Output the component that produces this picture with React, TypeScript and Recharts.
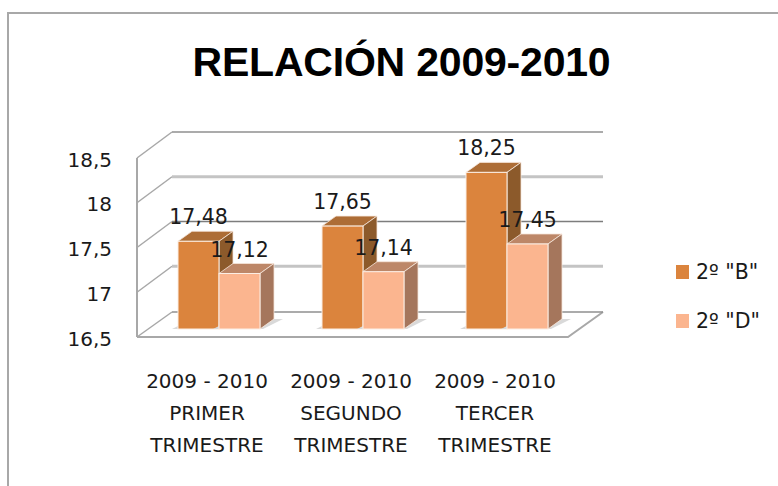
import React from "react";
import { BarChart, Bar, XAxis, YAxis, CartesianGrid, Legend, LabelList } from "recharts";

const categories = ["2009 - 2010\nPRIMER\nTRIMESTRE", "2009 - 2010\nSEGUNDO\nTRIMESTRE", "2009 - 2010\nTERCER\nTRIMESTRE"];
const serieB = [17.48, 17.65, 18.25];
const serieD = [17.12, 17.14, 17.45];
const yTicks = [16.5, 17, 17.5, 18, 18.5];
const nameB = '2º "B"';
const nameD = '2º "D"';
const title = "RELACIÓN 2009-2010";

const rows = categories.map((c, i) => ({ category: c, b: serieB[i], d: serieD[i] }));

const W = 778, H = 486;
const PLOT_TOP = 150, PLOT_BOTTOM = 329, PLOT_LEFT = 147, PLOT_RIGHT = 579;
const Y_W = 60, X_H = 110;
const FONT = "'DejaVu Sans', sans-serif";
const comma = (v: number) => String(v).replace(".", ",");

const gridStyles = [
  { stroke: "#8f8f8f", strokeWidth: 1.6 },
  { stroke: "#c4c4c4", strokeWidth: 3 },
  { stroke: "#7d7d7d", strokeWidth: 1.3 },
  { stroke: "#c4c4c4", strokeWidth: 3 },
  { stroke: "#8f8f8f", strokeWidth: 1.6 },
];

function gridLine(p: any) {
  const { x1, x2, y } = { x1: p.x1, x2: p.x2, y: p.y1 };
  const frac = (y - PLOT_TOP) / (PLOT_BOTTOM - PLOT_TOP);
  const style = gridStyles[Math.max(0, Math.min(4, Math.round(frac * 4)))];
  const isFloor = frac > 0.9;
  const fx = x1 - 10, bx = x1 + 25, bxr = x2 + 24, fxr = x2 - 11;
  const fy = y + 8, by = y - 18;
  return (
    <g key={p.key}>
      {isFloor && (
        <polyline points={`${fx},${fy} ${fxr},${fy} ${bxr},${by + 1}`} fill="none" stroke="#a8a8a8" strokeWidth={2} />
      )}
      <line x1={fx} y1={fy} x2={fx} y2={PLOT_BOTTOM + 8} stroke="#a8a8a8" strokeWidth={2} />
      <line x1={fx} y1={fy} x2={bx} y2={isFloor ? by + 1 : by} stroke="#a8a8a8" strokeWidth={1.5} />
      <line x1={bx} y1={isFloor ? by + 1 : by} x2={bxr} y2={isFloor ? by + 1 : by} {...style} />
    </g>
  );
}

const DX = 14, DY = 10;
function makeBar(front: string, top: string, side: string) {
  return (p: any) => {
    const { x, y, width: w, height: h } = p;
    const b = y + h;
    return (
      <g>
        <polygon points={`${x + w + 3},${b} ${x + w + DX + 9},${b - 10} ${x + w + DX},${b - 10} ${x + w},${b}`} fill="#d9d9d9" />
        <polygon points={`${x - 6},${b} ${x},${b - 3} ${x},${b}`} fill="#d9d9d9" />
        <polygon points={`${x},${y} ${x + DX},${y - DY} ${x + w + DX},${y - DY} ${x + w},${y}`} fill={top} stroke="#f6e6da" strokeWidth={0.8} />
        <polygon points={`${x + w},${y} ${x + w + DX},${y - DY} ${x + w + DX},${b - DY} ${x + w},${b}`} fill={side} stroke="#f6e6da" strokeWidth={0.8} />
        <rect x={x} y={y} width={w} height={h} fill={front} stroke="#fbeee4" strokeWidth={1} />
      </g>
    );
  };
}

function YTick(p: any) {
  return (
    <text x={112} y={p.y + 16.5} textAnchor="end" fontFamily={FONT} fontSize={20} fill="#1a1a1a">
      {comma(p.payload.value)}
    </text>
  );
}

function XTick(p: any) {
  const lines = String(p.payload.value).split("\n");
  return (
    <text textAnchor="middle" fontFamily={FONT} fontSize={20} fill="#1a1a1a">
      {lines.map((l, i) => (
        <tspan key={i} x={p.x - 12} y={388 + i * 32}>{l}</tspan>
      ))}
    </text>
  );
}

function LegendBox(p: any) {
  return (
    <div style={{ position: "relative" }}>
      {(p.payload || []).map((e: any) => (
        <div key={e.value} style={{ display: "flex", alignItems: "center", height: 49, fontFamily: FONT, fontSize: 20.5, color: "#1a1a1a", whiteSpace: "pre" }}>
          <span style={{ width: 13, height: 14, background: e.color, marginRight: 7, display: "inline-block" }} />
          {e.value}
        </div>
      ))}
    </div>
  );
}

export default function App() {
  return (
    <div style={{ position: "absolute", left: 0, top: 0, width: W, height: H, overflow: "hidden", background: "#fff" }}>
      <div style={{ position: "absolute", left: 7, top: 12, width: W + 20, height: H + 20, border: "2px solid #a8a8a8" }} />
      <div style={{ position: "absolute", left: 0, width: 803, top: 37, textAlign: "center", fontFamily: "'Liberation Sans', sans-serif", fontWeight: 700, fontSize: 41, lineHeight: "50px", color: "#000", letterSpacing: -0.2 }}>
        {title}
      </div>
      <div style={{ position: "absolute", left: 0, top: 0 }}>
        <BarChart
          width={W}
          height={H}
          data={rows}
          barGap={0}
          barSize={41}
          margin={{ top: PLOT_TOP, right: W - PLOT_RIGHT, bottom: H - PLOT_BOTTOM - X_H, left: PLOT_LEFT - Y_W }}
        >
          <CartesianGrid vertical={false} horizontal={gridLine as any} horizontalValues={yTicks} />
          <XAxis dataKey="category" height={X_H} interval={0} axisLine={false} tickLine={false} tick={XTick as any} />
          <YAxis width={Y_W} domain={[16.5, 18.5]} ticks={yTicks} axisLine={false} tickLine={false} tick={YTick as any} />
          <Legend
            layout="horizontal"
            align="center"
            verticalAlign="middle"
            content={LegendBox as any}
            wrapperStyle={{ left: 676, top: 247, width: 100, height: 100 }}
          />
          <Bar dataKey="b" name={nameB} fill="#db843d" isAnimationActive={false} shape={makeBar("#db843d", "#ad6d36", "#8c5a2b") as any}>
            <LabelList dataKey="b" position="top" offset={17} formatter={comma as any} fontFamily={FONT} fontSize={20.5} fill="#1a1a1a" />
          </Bar>
          <Bar dataKey="d" name={nameD} fill="#fbb58f" isAnimationActive={false} shape={makeBar("#fbb58f", "#bd8768", "#a5765c") as any}>
            <LabelList dataKey="d" position="top" offset={17} formatter={comma as any} fontFamily={FONT} fontSize={20.5} fill="#1a1a1a" />
          </Bar>
        </BarChart>
      </div>
    </div>
  );
}
